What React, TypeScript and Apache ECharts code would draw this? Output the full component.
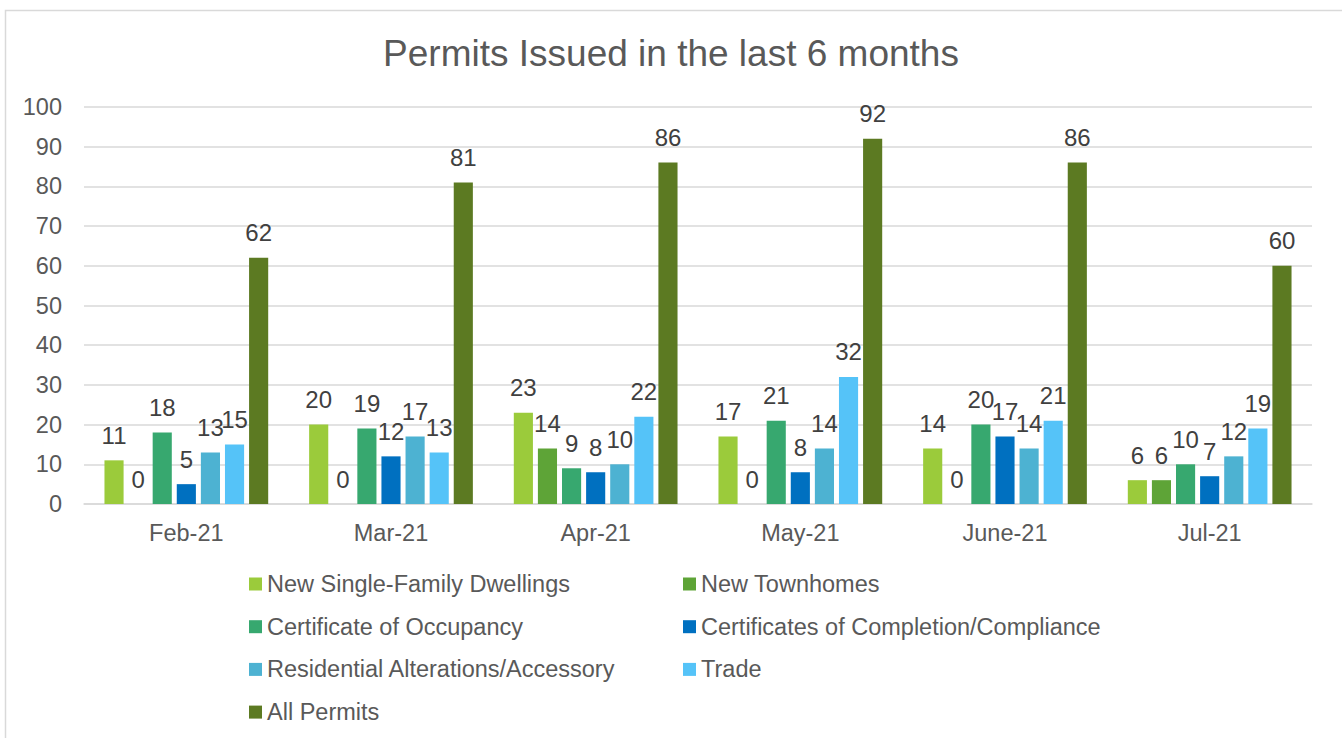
import React, { useEffect, useRef } from "react";
import * as echarts from "echarts";

const categories = ["Feb-21", "Mar-21", "Apr-21", "May-21", "June-21", "Jul-21"];
const seriesNames = [
  "New Single-Family Dwellings",
  "New Townhomes",
  "Certificate of Occupancy",
  "Certificates of Completion/Compliance",
  "Residential Alterations/Accessory",
  "Trade",
  "All Permits",
];
const singleFamily = [11, 20, 23, 17, 14, 6];
const townhomes = [0, 0, 14, 0, 0, 6];
const occupancy = [18, 19, 9, 21, 20, 10];
const completion = [5, 12, 8, 8, 17, 7];
const alterations = [13, 17, 10, 14, 14, 12];
const trade = [15, 13, 22, 32, 21, 19];
const allPermits = [62, 81, 86, 92, 86, 60];
const colors = ["#9bcb3b", "#5ea437", "#37a86f", "#0070c0", "#4db2d2", "#55c3f8", "#5c7a22"];
const values = [singleFamily, townhomes, occupancy, completion, alterations, trade, allPermits];

export default function App() {
  const ref = useRef<HTMLDivElement>(null);
  useEffect(() => {
    const chart = echarts.init(ref.current!, null, { renderer: "svg" });
    const font = "Liberation Sans, Arial, sans-serif";
    const legendText = { fontSize: 23.5, color: "#595959", fontFamily: font, padding: [0, 0, 0, 0] };
    chart.setOption({
      animation: false,
      textStyle: { fontFamily: font },
      title: {
        text: "Permits Issued in the last 6 months",
        left: "center",
        top: 30,
        textStyle: { fontSize: 37, fontWeight: "normal", color: "#595959", fontFamily: font },
      },
      graphic: [
        {
          type: "rect",
          shape: { x: 5.5, y: 10.5, width: 1400, height: 800 },
          style: { fill: "none", stroke: "#d9d9d9", lineWidth: 1.5 },
          silent: true,
        },
      ],
      grid: { left: 84, right: 30, top: 107, bottom: 234 },
      legend: [
        {
          data: [seriesNames[0], seriesNames[2], seriesNames[4], seriesNames[6]],
          orient: "vertical",
          left: 244,
          top: 567,
          itemWidth: 13,
          itemHeight: 13,
          itemGap: 18.7,
          icon: "rect",
          textStyle: legendText,
        },
        {
          data: [seriesNames[1], seriesNames[3], seriesNames[5]],
          orient: "vertical",
          left: 678,
          top: 567,
          itemWidth: 13,
          itemHeight: 13,
          itemGap: 18.7,
          icon: "rect",
          textStyle: legendText,
        },
      ],
      xAxis: {
        type: "category",
        data: categories,
        axisTick: { show: false },
        axisLine: { lineStyle: { color: "#d9d9d9", width: 1.5 } },
        axisLabel: { fontSize: 23.5, color: "#595959", margin: 17, fontFamily: font },
      },
      yAxis: {
        type: "value",
        min: 0,
        max: 100,
        interval: 10,
        axisLabel: { fontSize: 23.5, color: "#595959", margin: 22, fontFamily: font },
        splitLine: { lineStyle: { color: "#d9d9d9", width: 1.5 } },
        axisLine: { show: false },
        axisTick: { show: false },
      },
      series: seriesNames.map((name, i) => ({
        name,
        type: "bar",
        data: values[i],
        barGap: "26%",
        barCategoryGap: "20%",
        itemStyle: { color: colors[i] },
        label: {
          show: true,
          position: "top",
          distance: 13,
          fontSize: 24,
          color: "#404040",
          fontFamily: font,
        },
      })),
    });
    return () => chart.dispose();
  }, []);
  return (
    <div
      ref={ref}
      style={{ position: "fixed", left: 0, top: 0, width: 1342, height: 738, background: "#fff" }}
    />
  );
}
